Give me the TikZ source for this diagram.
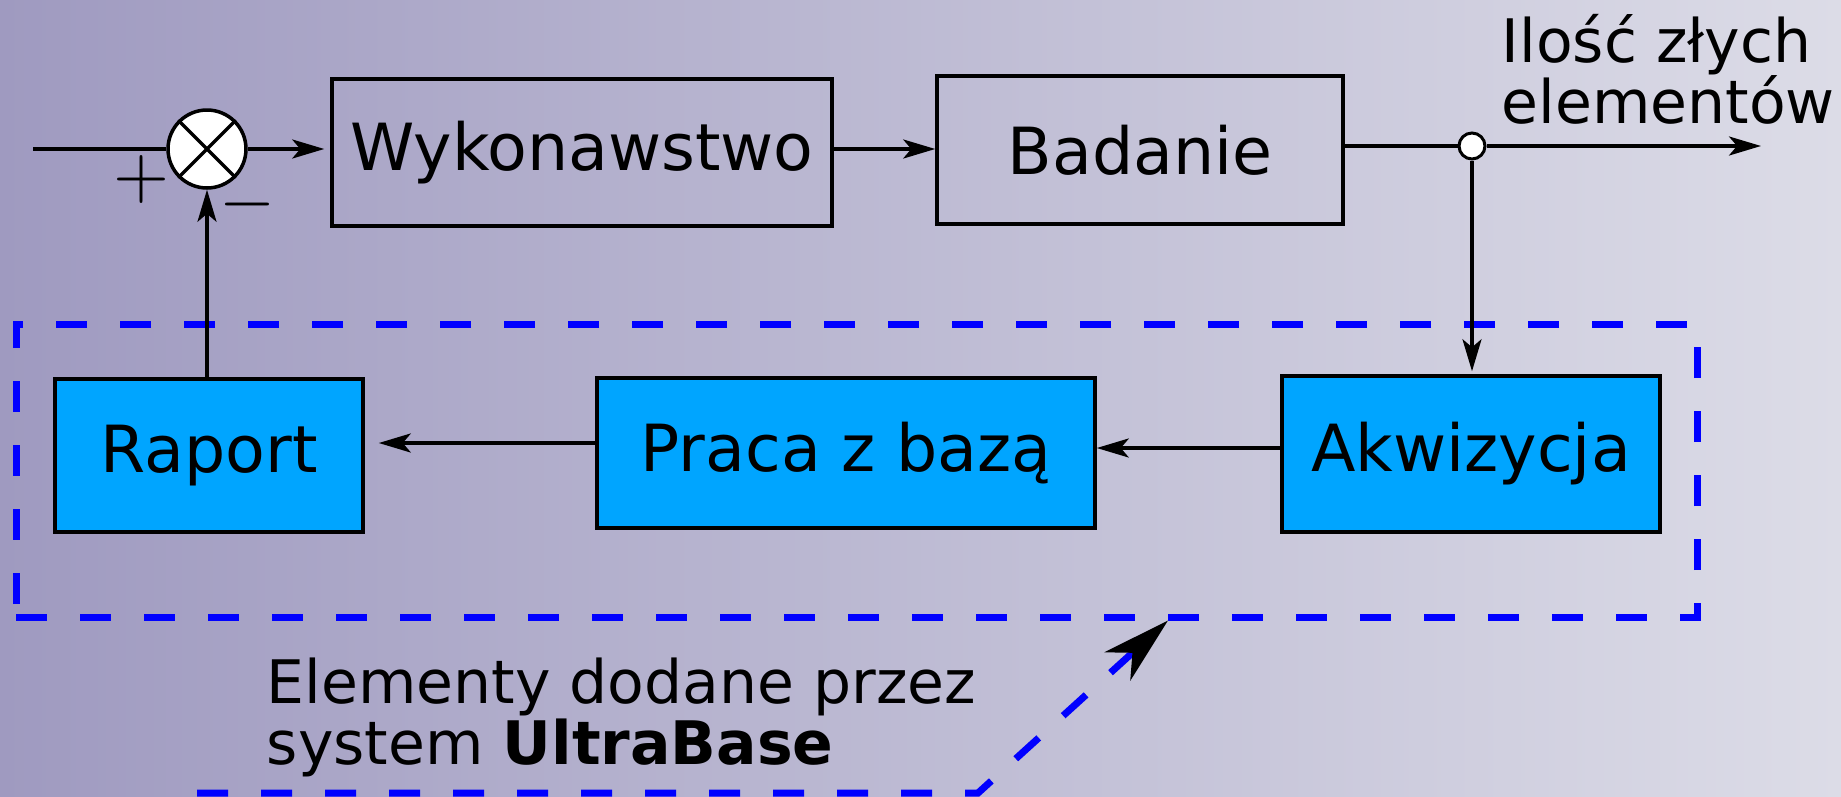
\documentclass[tikz,border=0pt]{standalone}
\usepackage{fontspec}
\setmainfont{DejaVu Sans}
\usetikzlibrary{arrows.meta,calc}
\definecolor{bgL}{HTML}{9F9AC0}
\definecolor{bgR}{HTML}{DCDCE7}
\definecolor{boxblue}{HTML}{00A5FF}
\definecolor{dashblue}{HTML}{0000FF}
\begin{document}
\begin{tikzpicture}[x=1pt,y=-1pt,
  line width=3.5pt,
  blk/.style={draw, line width=3.5pt, inner sep=0pt, font=\fontsize{65}{78}\selectfont},
  bblk/.style={blk, fill=boxblue},
  arr/.style={-{Stealth[length=32pt,width=19pt,inset=8pt]}},
  lbl/.style={font=\fontsize{60}{61}\selectfont, align=left, inner sep=0pt},
  grpbox/.style={draw=dashblue, line width=7pt, dash pattern=on 31pt off 33pt},
  sign/.style={inner sep=0pt},
]
\useasboundingbox (0,0) rectangle (1841,796);
\shade[left color=bgL, right color=bgR] (0,0) rectangle (1841,796);

% group box
\node[grpbox, minimum width=1681pt, minimum height=293pt, inner sep=0pt] (G) at (856.5,470.5) {};

% blocks
\node[blk, minimum width=500pt, minimum height=147pt] (W) at (582,152.5) {Wykonawstwo};
\node[blk, minimum width=406pt, minimum height=148pt] (B) at (1140,150) {Badanie};
\node[bblk, minimum width=308pt, minimum height=153pt] (R) at (209,455.5) {Raport};
\node[bblk, minimum width=498pt, minimum height=150pt] (P) at (846,453) {Praca z bazą};
\node[bblk, minimum width=378pt, minimum height=156pt] (A) at (1471,454) {Akwizycja};

% summing junction
\node[draw, fill=white, circle, minimum size=78pt, inner sep=0pt] (S) at (207,149) {};
\draw (S.north east) -- (S.south west) (S.north west) -- (S.south east);
\node[sign] (plus) at (141,179) {\scalebox{7.2}{$+$}};
\node[sign] (minus) at (247,204) {\scalebox{7.2}{$-$}};

% branch point
\node[draw, fill=white, circle, minimum size=26pt, inner sep=0pt, line width=3pt] (J) at (1472,146) {};

% connectors
\coordinate (in) at (33,149);
\draw (in) -- (S.west);
\draw[arr, shorten >=6pt] (S.east) -- (S.east -| W.west);
\draw[arr] (S.east -| W.east) -- (S.east -| B.west);
\draw (B.east |- J) -- (J.west);
\coordinate (out) at (1761,146);
\draw[arr] (J.east) -- (out);
\draw[arr, shorten >=3pt] (J.south) -- (J.south |- A.north);
\draw[arr] ([yshift=6pt]A.west) coordinate (a1) -- (a1 -| P.east);
\draw[arr, shorten >=14pt] ([yshift=10pt]P.west) coordinate (p1) -- (p1 -| R.east);
\draw[arr] (R.north -| S.south) -- (S.south);

% labels (base anchor = last line)
\node[lbl, anchor=base west] (ilosc) at (1500,123) {Ilość złych\\elementów};
\node[lbl, anchor=base west] (note) at (265,764) {Elementy dodane przez\\system \textbf{UltraBase}};

% annotation pointer
\coordinate (c1) at (197,793);
\coordinate (c2) at (978,793);
\coordinate (tx) at (1168,0);
\draw[grpbox, line join=miter, -{Stealth[black,length=68pt,width=38pt,inset=20pt]}] (c1) -- (c2) -- (G.south -| tx);
\end{tikzpicture}
\end{document}
